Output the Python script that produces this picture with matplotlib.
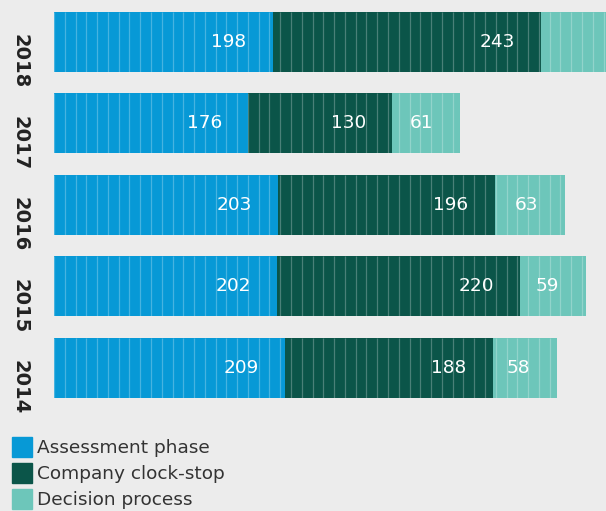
import numpy as np
import matplotlib.pyplot as plt
from matplotlib.patches import Rectangle

# data
years = ["2018", "2017", "2016", "2015", "2014"]
assessment = [198, 176, 203, 202, 209]
clock_stop = [243, 130, 196, 220, 188]
decision = [60, 61, 63, 59, 58]

series_names = ["Assessment phase", "Company clock-stop", "Decision process"]
colors = ["#0799d6", "#0b5549", "#6dc6ba"]

bg = "#ececec"
plt.rcParams["font.family"] = ["DejaVu Sans"]

fig = plt.figure(figsize=(6.06, 5.11), dpi=100, facecolor=bg)
ax = fig.add_axes([54 / 606, 0.2001, 552 / 606, 0.7975])
ax.set_facecolor(bg)

y = np.arange(len(years))
bar_h = 0.736
left = np.zeros(len(years))
for vals, col in zip([assessment, clock_stop, decision], colors):
    vals = np.array(vals)
    ax.barh(y, vals, left=left, height=bar_h, color=col, edgecolor="none")
    for yi, l, v in zip(y, left, vals):
        ax.annotate(str(v), xy=(l + v, yi), xytext=(-19, 0),
                    textcoords="offset points", ha="right", va="center",
                    color="white", fontsize=13.3)
    left = left + vals

# faint vertical stripes across each bar
stripe_step = 9.75
for yi, total in zip(y, left):
    xs = np.arange(0, total, stripe_step)
    ax.vlines(xs, yi - bar_h / 2, yi + bar_h / 2, colors="white",
              alpha=0.26, linewidth=0.9)

ax.set_xlim(0, 499.5)
ax.set_ylim(len(years) - 0.5, -0.5)
ax.set_xticks([])
ax.set_yticks(y, years, rotation=-90, fontweight="bold", fontsize=14,
              color="#222222")
ax.tick_params(axis="y", length=0, pad=18)
for s in ax.spines.values():
    s.set_visible(False)

# legend drawn in figure pixels
W, H = 606, 511
for i, (name, col) in enumerate(zip(series_names, colors)):
    top = 437 + i * 26
    fig.add_artist(Rectangle((12 / W, 1 - (top + 20) / H), 20 / W, 20 / H,
                             transform=fig.transFigure, color=col))
    fig.text(37 / W, 1 - (top + 11) / H, name, fontsize=13.3, color="#333333",
             va="center", ha="left")

fig.savefig("out.png", dpi=100, facecolor=bg)
